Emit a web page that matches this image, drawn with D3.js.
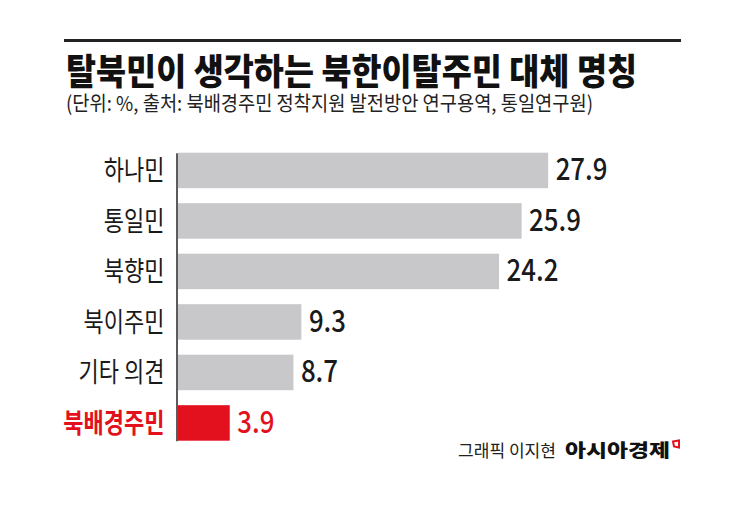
<!DOCTYPE html>
<html>
<head>
<meta charset="utf-8">
<script src="https://cdn.jsdelivr.net/npm/d3@7"></script>
<style>
  html, body { margin: 0; padding: 0; background: #fff; }
  svg { display: block; }
  text { font-family: "Noto Sans CJK KR", "Noto Sans", sans-serif; }
</style>
</head>
<body>
<svg id="chart" width="745" height="507"></svg>
<script>
// ---- data ----
const categories = ["하나민", "통일민", "북향민", "북이주민", "기타 의견", "북배경주민"];
const values = [27.9, 25.9, 24.2, 9.3, 8.7, 3.9];
const highlighted = ["북배경주민"];
const titleText = "탈북민이 생각하는 북한이탈주민 대체 명칭";
const subtitleText = "(단위: %, 출처: 북배경주민 정착지원 발전방안 연구용역, 통일연구원)";
const creditText = "그래픽 이지현";
const brandText = "아시아경제";

// ---- styles ----
const RED = "#e3101d";
const GRAY = "#c8c8ca";
const INK = "#1a1a1a";

const svg = d3.select("#chart");

// condense helper: scale text horizontally to factor k or to an absolute width
function condense(sel, k, target) {
  sel.each(function () {
    const len = this.getComputedTextLength();
    const w = target != null ? target : len * k;
    d3.select(this).attr("textLength", w).attr("lengthAdjust", "spacingAndGlyphs");
  });
}

// top rule
svg.append("line")
  .attr("x1", 64).attr("x2", 681)
  .attr("y1", 40.5).attr("y2", 40.5)
  .attr("stroke", "#222").attr("stroke-width", 3);

// title
svg.append("text")
  .attr("x", 66).attr("y", 84.5)
  .attr("font-size", 36)
  .attr("font-weight", 900)
  .attr("fill", "#111")
  .text(titleText)
  .call(condense, null, 571);

// subtitle
svg.append("text")
  .attr("x", 66).attr("y", 110.5)
  .attr("font-size", 20.5)
  .attr("fill", "#222")
  .text(subtitleText)
  .call(condense, null, 527);

// scales
const x = d3.scaleLinear().domain([0, 30]).range([178, 576]);
const y = d3.scaleBand().domain(categories).range([152.7, 440.7])
  .paddingInner(0.297).paddingOuter(0);

const data = categories.map((c, i) => ({ cat: c, val: values[i], hi: highlighted.includes(c) }));

// bars
svg.append("g").selectAll("rect")
  .data(data).join("rect")
  .attr("x", x(0))
  .attr("y", d => y(d.cat))
  .attr("width", d => x(d.val) - x(0))
  .attr("height", y.bandwidth())
  .attr("fill", d => d.hi ? RED : GRAY);

// value labels
svg.append("g").selectAll("text")
  .data(data).join("text")
  .attr("x", d => x(d.val) + 7.5)
  .attr("y", d => y(d.cat) + y.bandwidth() / 2 + 10)
  .attr("font-size", 30)
  .attr("font-weight", 500)
  .attr("fill", d => d.hi ? RED : INK)
  .text(d => d.val.toFixed(1))
  .call(condense, 0.86);

// axis with category labels
const axis = svg.append("g")
  .attr("transform", "translate(176.5,0)")
  .call(d3.axisLeft(y).tickSize(0).tickPadding(12));
axis.select(".domain").attr("stroke", "#333").attr("stroke-width", 1.6);
axis.selectAll(".tick text")
  .attr("font-family", "\"Noto Sans CJK KR\", sans-serif")
  .attr("font-size", 27.5)
  .attr("dy", "0.35em")
  .attr("fill", d => highlighted.includes(d) ? RED : INK)
  .attr("font-weight", d => highlighted.includes(d) ? 700 : 400)
  .call(condense, 0.8);

// credit
svg.append("text")
  .attr("x", 458).attr("y", 456.5)
  .attr("font-size", 17)
  .attr("fill", "#222")
  .text(creditText)
  .call(condense, null, 98);

svg.append("text")
  .attr("x", 565).attr("y", 456.5)
  .attr("font-size", 18)
  .attr("font-weight", 900)
  .attr("fill", "#111")
  .text(brandText)
  .call(condense, null, 105);

// brand mark
svg.append("path")
  .attr("d", "M673,441.5 L679,440.5 L679,447.5 L674,446.5 Z")
  .attr("fill", "#fff")
  .attr("stroke", RED)
  .attr("stroke-width", 2);
</script>
</body>
</html>
